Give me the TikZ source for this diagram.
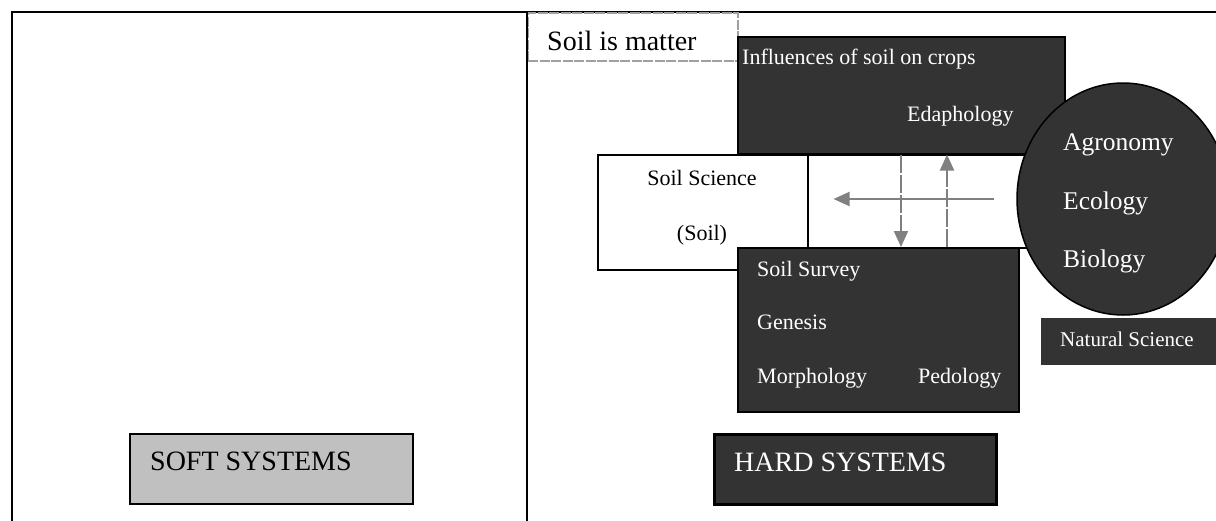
\documentclass[tikz,border=0pt]{standalone}
\usepackage{fontspec}
\setmainfont{Liberation Serif}
\usetikzlibrary{shapes.geometric,arrows.meta}
\definecolor{darkfill}{RGB}{51,51,51}
\definecolor{softfill}{RGB}{192,192,192}
\definecolor{flowgray}{RGB}{128,128,128}
\definecolor{dashgray}{RGB}{160,160,160}

\tikzset{
  box/.style={draw=black, line width=1.5pt, anchor=north west, inner sep=0pt},
  darkbox/.style={box, fill=darkfill},
  txt/.style={anchor=base west, inner sep=0pt, font=\fontsize{22}{26}\selectfont},
  wtxt/.style={txt, text=white},
  midtxt/.style={wtxt, font=\fontsize{25.5}{30}\selectfont},
  bigtxt/.style={txt, font=\fontsize{28}{32}\selectfont},
  flow/.style={draw=flowgray, line width=2pt, -{Triangle[length=16pt,width=14pt]}},
  flowdash/.style={flow, dash pattern=on 18pt off 2pt},
}

\begin{document}
\begin{tikzpicture}[x=1pt,y=-1pt]
\clip (0,0) rectangle (1216,520);
\fill[white] (0,0) rectangle (1216,520);

% frame
\draw[line width=2pt] (12,540) |- (1230,12);
\node[box, draw=dashgray, dash pattern=on 10pt off 1.5pt, line width=2pt,
      minimum width=210, minimum height=48] (matter) at (527,12) {};
\draw[line width=1.5pt] (527,12) -- (527,540);
\node[bigtxt] (matterlbl) at (547,50) {Soil is matter};

% boxes
\node[box, minimum width=210, minimum height=115] (soilsci) at (597,154) {};
\node[box, minimum width=240, minimum height=93] (mid) at (807,154) {};
\node[darkbox, minimum width=327, minimum height=117] (infl) at (737,36) {};
\node[darkbox, line width=2pt, minimum width=281, minimum height=164] (survey) at (737,247) {};
\node[ellipse, draw=black, line width=1.5pt, fill=darkfill,
      minimum width=212, minimum height=232] (nat) at (1123,199) {};
\node[darkbox, draw=none, minimum width=190, minimum height=47] (natsci) at (1040,317) {};

\node[box, line width=2pt, fill=softfill, minimum width=283, minimum height=70] (soft) at (129,433) {};
\node[darkbox, line width=3pt, minimum width=282, minimum height=70] (hard) at (713,433) {};

% labels
\node[wtxt] (infllbl) at (742,64) {Influences of soil on crops};
\node[wtxt] (edalbl) at (907,121) {Edaphology};
\node[txt, anchor=base] (scilbl) at (702,185) {Soil Science};
\node[txt, anchor=base] (soillbl) at (702,240) {(Soil)};
\node[wtxt] (survlbl) at (757,276) {Soil Survey};
\node[wtxt] (genlbl) at (757,329) {Genesis};
\node[wtxt] (morlbl) at (757,383) {Morphology};
\node[wtxt] (pedlbl) at (918,383) {Pedology};
\node[midtxt] (agrlbl) at (1063,150) {Agronomy};
\node[midtxt] (ecolbl) at (1063,209) {Ecology};
\node[midtxt] (biolbl) at (1063,267) {Biology};
\node[wtxt, font=\fontsize{21}{25}\selectfont] (natlbl) at (1060,346) {Natural Science};
\node[bigtxt] (softlbl) at (150,470) {SOFT SYSTEMS};
\node[bigtxt, text=white] (hardlbl) at (734,471) {HARD SYSTEMS};

% arrows
\coordinate (dnx) at (901,200);
\coordinate (upx) at (947,200);
\draw[flow, shorten <=22pt, shorten >=25pt] (nat.west) -- (nat.west -| soilsci.east);
\draw[flowdash] (infl.south -| dnx) -- (survey.north -| dnx);
\draw[flowdash] (survey.north -| upx) -- (infl.south -| upx);

\end{tikzpicture}
\end{document}
